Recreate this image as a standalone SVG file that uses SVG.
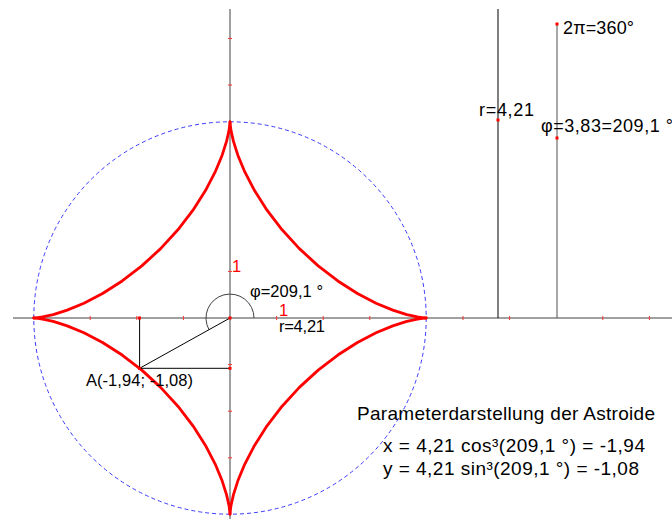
<svg xmlns="http://www.w3.org/2000/svg" width="672" height="519" viewBox="0 0 672 519">
<defs>
<style>
.ax{stroke:#808080;stroke-width:1.5;fill:none}
.tk{stroke:#ff3030;stroke-width:1}
.blk{stroke:#000;stroke-width:1;fill:none}
.pt{fill:#ff0000}
.t{font-family:"Liberation Sans",Arial,sans-serif;fill:#000}
.big{font-size:18px}
.bot{font-size:19px}
.sm{font-size:16.5px}
.red{fill:#ff0000}
.ast{stroke:#ff0000;stroke-width:2.8;fill:none;stroke-linejoin:round;stroke-linecap:round}
</style>
<polyline id="q" class="ast" points="196.2,0 193.97,-0.13 187.39,-1.03 176.82,-3.4 162.8,-7.85 146.06,-14.81 127.44,-24.53 107.84,-37.02 88.2,-52.11 69.37,-69.37 52.11,-88.2 37.02,-107.84 24.53,-127.44 14.81,-146.06 7.85,-162.8 3.4,-176.82 1.03,-187.39 0.13,-193.97 0,-196.2"/>
</defs>
<rect width="672" height="519" fill="#fff"/>
<g id="axes">
<line class="ax" x1="13" y1="318" x2="672" y2="318"/>
<line class="ax" x1="230" y1="9" x2="230" y2="519"/>
</g>
<g id="ticks">
<line class="tk" x1="43.6" y1="316" x2="43.6" y2="320"/>
<line class="tk" x1="90.2" y1="316" x2="90.2" y2="320"/>
<line class="tk" x1="136.8" y1="316" x2="136.8" y2="320"/>
<line class="tk" x1="183.4" y1="316" x2="183.4" y2="320"/>
<line class="tk" x1="276.6" y1="316" x2="276.6" y2="320"/>
<line class="tk" x1="323.2" y1="316" x2="323.2" y2="320"/>
<line class="tk" x1="369.8" y1="316" x2="369.8" y2="320"/>
<line class="tk" x1="463" y1="316" x2="463" y2="320"/>
<line class="tk" x1="509.6" y1="316" x2="509.6" y2="320"/>
<line class="tk" x1="602.8" y1="316" x2="602.8" y2="320"/>
<line class="tk" x1="649.4" y1="316" x2="649.4" y2="320"/>
<line class="tk" x1="228" y1="38.4" x2="232" y2="38.4"/>
<line class="tk" x1="228" y1="85" x2="232" y2="85"/>
<line class="tk" x1="228" y1="271.4" x2="232" y2="271.4"/>
<line class="tk" x1="228" y1="364.6" x2="232" y2="364.6"/>
<line class="tk" x1="228" y1="411.2" x2="232" y2="411.2"/>
<line class="tk" x1="228" y1="457.8" x2="232" y2="457.8"/>
<line class="tk" x1="228" y1="504.4" x2="232" y2="504.4"/>
</g>
<g id="circle">
<circle cx="230" cy="318" r="196.2" fill="none" stroke="#3a3aff" stroke-width="1" stroke-dasharray="4 3"/>
</g>
<g id="astroid" transform="translate(230,318)">
<use href="#q"/>
<use href="#q" transform="scale(-1,1)"/>
<use href="#q" transform="scale(1,-1)"/>
<use href="#q" transform="scale(-1,-1)"/>
</g>
<g id="construction">
<path d="M254,318 A24,24 0 1 0 209,329.7" fill="none" stroke="#404040" stroke-width="1"/>
<line class="blk" x1="230" y1="318" x2="139.6" y2="368.3"/>
<line class="blk" x1="139.6" y1="368.3" x2="230" y2="368.3" stroke-width="1.5"/>
<line class="blk" x1="139.6" y1="368.3" x2="139.6" y2="318" stroke-width="1.5"/>
</g>
<g id="sliders">
<line x1="498" y1="9" x2="498" y2="318" stroke="#000" stroke-width="1"/>
<line x1="557" y1="24" x2="557" y2="318" stroke="#505050" stroke-width="1"/>
</g>
<g id="points">
<rect class="pt" x="496.5" y="118.5" width="3" height="3"/>
<rect class="pt" x="555.5" y="22.5" width="3" height="3"/>
<rect class="pt" x="555.5" y="136.5" width="3" height="3"/>
<rect class="pt" x="228.5" y="316.5" width="3" height="3"/>
<rect class="pt" x="138" y="316.5" width="3" height="3"/>
<rect class="pt" x="228.5" y="366.8" width="3" height="3"/>
<rect class="pt" x="138" y="366.8" width="3" height="3"/>
</g>
<g id="labels">
<text class="t big" x="563" y="34" textLength="71">2π=360°</text>
<text class="t big" x="479" y="116" textLength="55">r=4,21</text>
<text class="t big" x="541" y="132" textLength="132">φ=3,83=209,1 °</text>
<text class="t sm red" x="232" y="272">1</text>
<text class="t sm red" x="279" y="316">1</text>
<text class="t sm" x="250" y="297" textLength="73">φ=209,1 °</text>
<text class="t sm" x="279" y="332" textLength="46">r=4,21</text>
<text class="t sm" x="86" y="386" textLength="107">A(-1,94; -1,08)</text>
<text class="t bot" x="357" y="420" textLength="298">Parameterdarstellung der Astroide</text>
<text class="t bot" x="383" y="452" textLength="262">x = 4,21 cos³(209,1 °) = -1,94</text>
<text class="t bot" x="383" y="475" textLength="256">y = 4,21 sin³(209,1 °) = -1,08</text>
</g>
</svg>
